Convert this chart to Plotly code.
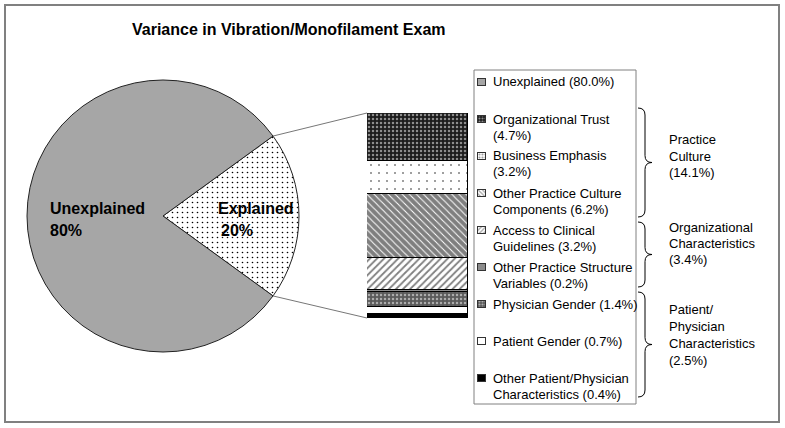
import math
import plotly.graph_objects as go

W, H = 785, 428
FONT = "Liberation Sans, Arial, sans-serif"

# ---------------- data ----------------
title_text = "Variance in Vibration/Monofilament Exam"

pie_labels = ["Explained", "Unexplained"]
pie_values = [20, 80]

bar_labels = [
    "Organizational Trust",
    "Business Emphasis",
    "Other Practice Culture Components",
    "Access to Clinical Guidelines",
    "Other Practice Structure Variables",
    "Physician Gender",
    "Patient Gender",
    "Other Patient/Physician Characteristics",
]
bar_values = [4.7, 3.2, 6.2, 3.2, 0.2, 1.4, 0.7, 0.4]

legend_lines = [
    ["Unexplained (80.0%)"],
    ["Organizational Trust", "(4.7%)"],
    ["Business Emphasis", "(3.2%)"],
    ["Other Practice Culture", "Components (6.2%)"],
    ["Access to Clinical", "Guidelines (3.2%)"],
    ["Other Practice Structure", "Variables (0.2%)"],
    ["Physician Gender (1.4%)"],
    ["Patient Gender (0.7%)"],
    ["Other Patient/Physician", "Characteristics (0.4%)"],
]

group_names = [["Practice", "Culture"], ["Organizational", "Characteristics"],
               ["Patient/", "Physician", "Characteristics"]]
group_values = [14.1, 3.4, 2.5]

# ---------------- styles ----------------
seg_shape = [".", ".", "\\", "/", "", ".", "", ""]
seg_fg = ["white", "black", "black", "black", "black", "white", "black", "black"]
seg_bg = ["#1c1c1c", "white", "white", "white", "#8c8c8c", "#5a5a5a", "white", "black"]
seg_size = [4, 8, 5, 5, 6, 4, 6, 6]
seg_sol = [0.3, 0.05, 0.8, 0.35, 0.3, 0.3, 0.3, 0.3]

PIE_GRAY = "#a6a6a6"


def px(x):
    return x / W


def py(y):
    return 1 - y / H


# geometry (pixels)
PIE_X0, PIE_X1, PIE_Y0, PIE_Y1 = 27, 299, 80, 352
BAR_X0, BAR_X1, BAR_Y0, BAR_Y1 = 367, 468, 113, 318
LEG_BOX = (474, 70, 636, 404)
LEG_SYM_X0, LEG_SYM_X1 = 478, 486
LEG_TEXT_X = 491
LEG_Y_FIRST, LEG_STEP, LINE_H = 82, 37.0, 16

fig = go.Figure()

# pie
fig.add_trace(go.Pie(
    labels=pie_labels, values=pie_values, sort=False, direction="clockwise",
    rotation=90 - 180 * pie_values[0] / sum(pie_values),
    textinfo="none", hoverinfo="label+percent", showlegend=False,
    domain=dict(x=[px(PIE_X0), px(PIE_X1)], y=[py(PIE_Y1), py(PIE_Y0)]),
    marker=dict(colors=["white", PIE_GRAY],
                line=dict(color="#222222", width=1),
                pattern=dict(shape=[".", ""], fgcolor=["black", "black"],
                             bgcolor=["white", PIE_GRAY], size=5, solidity=0.08)),
))

# stacked bar (bottom first)
for i in reversed(range(len(bar_labels))):
    fig.add_trace(go.Bar(
        x=[0], y=[bar_values[i]], name=bar_labels[i], width=1,
        xaxis="x", yaxis="y", showlegend=False,
        marker=dict(color=seg_bg[i], line=dict(color="black", width=1),
                    pattern=dict(shape=seg_shape[i], fgcolor=seg_fg[i], bgcolor=seg_bg[i],
                                 size=seg_size[i], solidity=seg_sol[i])),
    ))

# legend symbols (small bars on a pixel-scaled helper axis)
sym_y = [LEG_Y_FIRST + LEG_STEP * k for k in range(len(legend_lines))]
fig.add_trace(go.Bar(
    orientation="h", y=sym_y, x=[1] * len(sym_y), base=[0] * len(sym_y), width=7,
    xaxis="x2", yaxis="y2", showlegend=False, hoverinfo="skip",
    marker=dict(color=[PIE_GRAY] + seg_bg, line=dict(color="#333333", width=1),
                pattern=dict(shape=[""] + seg_shape, fgcolor=["black"] + seg_fg,
                             bgcolor=[PIE_GRAY] + seg_bg, size=3, solidity=0.4)),
))

ann = []


def text(t, x, y, size=13, bold=False):
    ann.append(dict(text=t, x=px(x), y=py(y), xref="paper", yref="paper",
                    xanchor="left", yanchor="middle", showarrow=False,
                    font=dict(size=size, family=FONT, color="black",
                              weight="bold" if bold else "normal")))


# title
text(title_text, 130, 30, size=16, bold=True)
# pie labels
for lab, val, x, dx in [(pie_labels[1], pie_values[1], 48, 0), (pie_labels[0], pie_values[0], 216, 3)]:
    text(lab, x, 208, size=16, bold=True)
    text(f"{val}%", x + dx, 230, size=16, bold=True)
# legend text
for k, lines in enumerate(legend_lines):
    for j, t in enumerate(lines):
        text(t, LEG_TEXT_X, sym_y[k] + LINE_H * j)
# group labels
group_label_y = [140, 227, 309]
group_brace = [(108, 217), (222, 287), (292, 397)]
for g in range(len(group_names)):
    lines = group_names[g] + [f"({group_values[g]:.1f}%)"]
    step = 16.3 if len(lines) == 3 else 17.3
    for j, t in enumerate(lines):
        text(t, 667, group_label_y[g] + step * j)

shapes = []
# outer frame
shapes.append(dict(type="rect", xref="paper", yref="paper", x0=px(5), x1=px(779),
                   y0=py(422), y1=py(5), line=dict(color="#808080", width=2)))
# legend box
shapes.append(dict(type="rect", xref="paper", yref="paper", x0=px(LEG_BOX[0]), x1=px(LEG_BOX[2]),
                   y0=py(LEG_BOX[3]), y1=py(LEG_BOX[1]), line=dict(color="#808080", width=1)))
# connector lines from pie slice edges to bar
cx, cy, r = (PIE_X0 + PIE_X1) / 2, (PIE_Y0 + PIE_Y1) / 2, (PIE_X1 - PIE_X0) / 2
half = math.pi * pie_values[0] / sum(pie_values)
for sgn, by in [(-1, BAR_Y0), (1, BAR_Y1)]:
    ex, ey = cx + r * math.cos(half), cy + sgn * r * math.sin(half)
    shapes.append(dict(type="line", xref="paper", yref="paper", x0=px(ex), y0=py(ey),
                       x1=px(BAR_X0), y1=py(by), line=dict(color="#777777", width=1)))


# braces
def brace(y0, y1, xl=638, xs=645, xt=652, c=7):
    ym = (y0 + y1) / 2
    pts = [
        f"M{px(xl)},{py(y0)}",
        f"Q{px(xs)},{py(y0)} {px(xs)},{py(y0 + c)}",
        f"L{px(xs)},{py(ym - c)}",
        f"Q{px(xs)},{py(ym)} {px(xt)},{py(ym)}",
        f"Q{px(xs)},{py(ym)} {px(xs)},{py(ym + c)}",
        f"L{px(xs)},{py(y1 - c)}",
        f"Q{px(xs)},{py(y1)} {px(xl)},{py(y1)}",
    ]
    return " ".join(pts)


for (b0, b1) in group_brace:
    shapes.append(dict(type="path", xref="paper", yref="paper", path=brace(b0, b1),
                       line=dict(color="black", width=1)))

hidden = dict(visible=False, showgrid=False, zeroline=False, fixedrange=True)
pad = 3  # pixels of room around the legend symbols so their outlines are not clipped
sym_w = LEG_SYM_X1 - LEG_SYM_X0
fig.update_layout(
    width=W, height=H, margin=dict(l=0, r=0, t=0, b=0),
    paper_bgcolor="white", plot_bgcolor="rgba(0,0,0,0)",
    barmode="stack", bargap=0, showlegend=False,
    xaxis=dict(domain=[px(BAR_X0), px(BAR_X1)], range=[-0.5, 0.5], **hidden),
    yaxis=dict(domain=[py(BAR_Y1), py(BAR_Y0)], range=[0, sum(bar_values)], **hidden),
    xaxis2=dict(domain=[px(LEG_SYM_X0 - pad), px(LEG_SYM_X1 + pad)],
                range=[-pad / sym_w, 1 + pad / sym_w], anchor="y2", **hidden),
    yaxis2=dict(domain=[0, 1], range=[H, 0], anchor="x2", **hidden),
    annotations=ann, shapes=shapes,
)

fig.write_html("out.html", config={"displayModeBar": False},
               post_script="document.body.style.margin='0';document.body.style.overflow='hidden';")
